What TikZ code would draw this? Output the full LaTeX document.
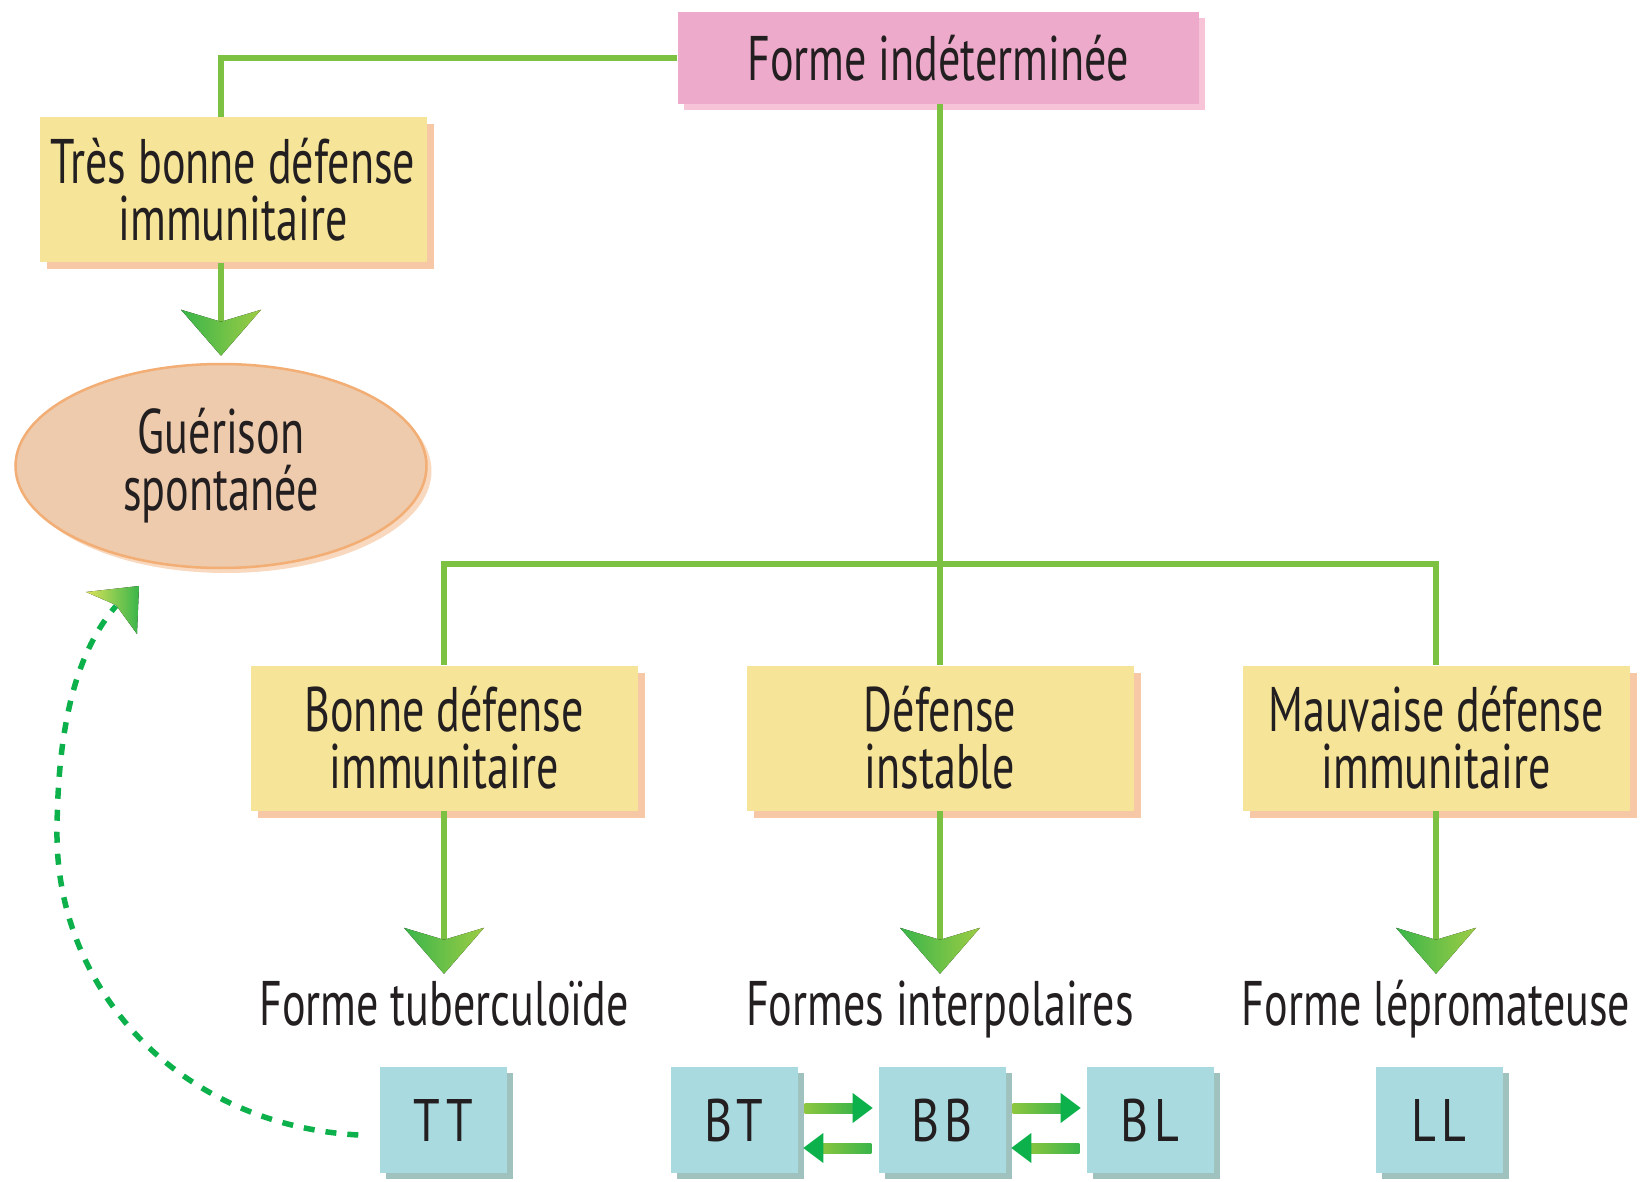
\documentclass[tikz,border=0pt]{standalone}
\usepackage{fontspec}
\setmainfont{PT Sans}[FakeStretch=0.7]
\newfontfamily\codefont{PT Sans}[FakeStretch=0.8,LetterSpace=9]
\usetikzlibrary{shapes.geometric,shadows,calc}
\definecolor{pinkfill}{HTML}{EDAACB}
\definecolor{pinkshadow}{HTML}{F29BBC}
\definecolor{boxyellow}{HTML}{F6E598}
\definecolor{yshadow}{HTML}{F3B27F}
\definecolor{boxblue}{HTML}{A8DADF}
\definecolor{bshadow}{HTML}{89B3AF}
\definecolor{healfill}{HTML}{EECBAC}
\definecolor{healedge}{HTML}{F2AE74}
\definecolor{gline}{HTML}{7CC142}
\definecolor{gdark}{HTML}{0DB14B}
\definecolor{gmid}{HTML}{39B54A}
\definecolor{glight}{HTML}{8DC63F}
\definecolor{gyel}{HTML}{DDE35A}
\definecolor{textc}{HTML}{231F20}
\begin{document}
\begin{tikzpicture}[x=1pt,y=-1pt,
  every node/.style={text=textc, font=\fontsize{63}{57}\selectfont},
  pinkbox/.style={fill=pinkfill, minimum width=521pt, minimum height=92pt, inner sep=0pt,
    drop shadow={shadow xshift=6pt, shadow yshift=-6pt, fill=pinkshadow, opacity=0.6}},
  ybox/.style={fill=boxyellow, minimum width=387pt, minimum height=145pt, inner sep=0pt, align=center,
    drop shadow={shadow xshift=7pt, shadow yshift=-7pt, fill=yshadow, opacity=0.7}},
  bbox/.style={fill=boxblue, minimum width=127pt, minimum height=106pt, inner sep=0pt,
    font=\codefont\fontsize{60}{60}\selectfont,
    drop shadow={shadow xshift=6pt, shadow yshift=-6pt, fill=bshadow, opacity=0.8}},
  formlabel/.style={inner sep=0pt, text height=44pt, text depth=12pt},
  gconn/.style={draw=gline, line width=5.5pt},
  dconn/.style={draw=gdark, line width=5.5pt, dash pattern=on 11pt off 11pt},
  vhead/.pic={\fill[left color=gmid, middle color=gyel, right color=glight!80!gyel]
      (-40,-46) -- (0,0) -- (40,-46) -- (0,-34) -- cycle;},
  rarr/.pic={\fill[left color=glight, middle color=gyel, right color=gmid] (0,-5) rectangle (52,5);
      \fill[gdark] (48,-15) -- (68,0) -- (48,15) -- cycle;}
]
\useasboundingbox (0,0) rectangle (1652,1182);
\fill[white] (0,0) rectangle (1652,1182);

% nodes
\node[pinkbox] (top) at (938,58) {Forme indéterminée};
\node[ybox] (y1) at (233,190) {Très bonne défense\\immunitaire};
\node[ellipse, fill=healfill, draw=healedge, line width=2.5pt, minimum width=411pt, minimum height=204pt,
  align=center, inner sep=0pt,
  drop shadow={shadow xshift=5pt, shadow yshift=-5pt, fill=yshadow, opacity=0.5}] (heal) at (221,466) {Guérison\\spontanée};

\node[ybox] (y2) at (444,738) {Bonne défense\\immunitaire};
\node[ybox] (y3) at (940,738) {Défense\\instable};
\node[ybox] (y4) at (1436,738) {Mauvaise défense\\immunitaire};

\node[formlabel] (l2) at (444,1009) {Forme tuberculoïde};
\node[formlabel] (l3) at (940,1009) {Formes interpolaires};
\node[formlabel] (l4) at (1436,1009) {Forme lépromateuse};

\node[bbox] (TT) at (443,1120) {TT};
\node[bbox] (BT) at (734,1120) {BT};
\node[bbox] (BB) at (942,1120) {BB};
\node[bbox] (BL) at (1150,1120) {BL};
\node[bbox] (LL) at (1439,1120) {LL};

\coordinate (hub) at (940,564);

% connectors
\draw[gconn] (top.west) -| (y1.north -| heal.north);
\draw[gconn] (top.south -| hub) -- (hub);
\draw[gconn] (y2.north) |- (hub) -| (y4.north);
\draw[gconn] (hub) -- (y3.north);

\draw[gconn] (y1.south -| heal.north) -- ([yshift=40pt]heal.north);
\pic at ([yshift=7pt]heal.north) {vhead};

\draw[gconn] (y2.south) -- ([yshift=35pt]l2.north);
\pic at ([yshift=7pt]l2.north) {vhead};
\draw[gconn] (y3.south) -- ([yshift=35pt]l3.north);
\pic at ([yshift=7pt]l3.north) {vhead};
\draw[gconn] (y4.south) -- ([yshift=35pt]l4.north);
\pic at ([yshift=7pt]l4.north) {vhead};

% exchange arrows
\pic at ($(BT.east)+(7,-12)$) {rarr};
\pic[xscale=-1] at ($(BB.west)+(-7,28)$) {rarr};
\pic at ($(BB.east)+(7,-12)$) {rarr};
\pic[xscale=-1] at ($(BL.west)+(-7,28)$) {rarr};

% dashed return arrow
\coordinate (dstart) at ($(TT.west)+(-21,15)$);
\coordinate (dend) at (116,606);
\draw[dconn] (dstart) .. controls (180,1125) and (55,990) .. (57,830)
  .. controls (58,720) and (78,650) .. (dend);
\fill[left color=gyel, right color=gmid] (139,586) -- (86,592) -- (116,605) -- (137,634) -- cycle;
\end{tikzpicture}
\end{document}
